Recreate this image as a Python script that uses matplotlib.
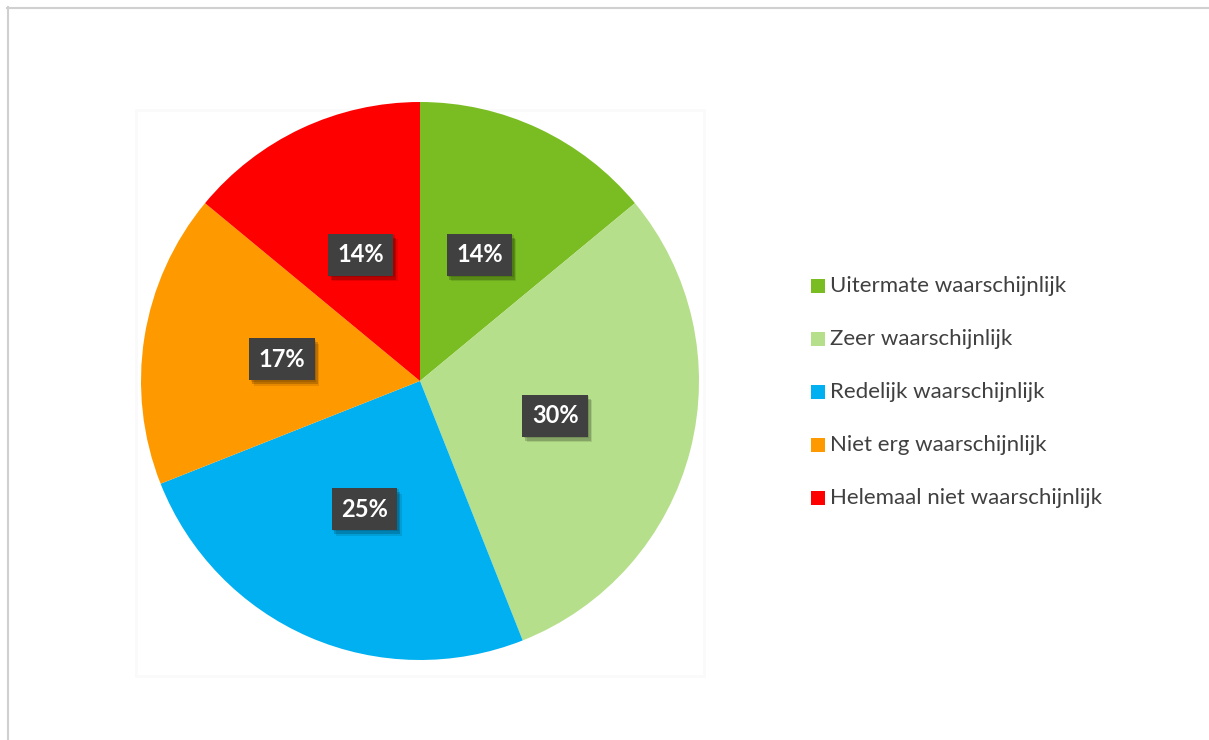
import matplotlib
matplotlib.use("Agg")
import matplotlib.pyplot as plt
from matplotlib.patches import Rectangle
import matplotlib.patheffects as pe

categories = [
    "Uitermate waarschijnlijk",
    "Zeer waarschijnlijk",
    "Redelijk waarschijnlijk",
    "Niet erg waarschijnlijk",
    "Helemaal niet waarschijnlijk",
]
shares = [14, 30, 25, 17, 14]
colors = ["#7ABD22", "#B5DF8A", "#00B0F0", "#FF9900", "#FF0000"]

W, H = 1209, 740
fig = plt.figure(figsize=(W / 100, H / 100), dpi=100)
fig.patch.set_facecolor("white")
plt.rcParams["font.family"] = ["Lato", "DejaVu Sans"]

# outer chart border (top and left edges visible)
border = fig.add_axes([0, 0, 1, 1])
border.set_xlim(0, W)
border.set_ylim(H, 0)
border.axis("off")
border.plot([7, W], [7.5, 7.5], color="#D0D0D0", lw=1.5)
border.plot([7.5, 7.5], [7, H], color="#D0D0D0", lw=1.5)
# faint plot-area frame
border.add_patch(Rectangle((136, 110), 568, 566, fill=False, ec="#FAFAFA", lw=2))

cx, cy, r = 420, 381, 279
ax = fig.add_axes([(cx - r) / W, (H - cy - r) / H, 2 * r / W, 2 * r / H])
wedges, _, autotexts = ax.pie(
    shares,
    colors=colors,
    startangle=90,
    counterclock=False,
    radius=1,
    autopct=lambda p: f"{p:.0f}%",
    pctdistance=0.5,
    wedgeprops=dict(linewidth=0),
)
ax.set_xlim(-1, 1)
ax.set_ylim(-1, 1)
ax.set_aspect("equal")

for t in autotexts:
    t.set_color("white")
    t.set_fontweight("bold")
    t.set_fontsize(17)
    t.set_bbox(dict(boxstyle="square,pad=0.4", fc="#404040", lw=0))
    t.get_bbox_patch().set_path_effects(
        [pe.SimplePatchShadow(offset=(1, -1), shadow_rgbFace="black", alpha=0.12),
         pe.SimplePatchShadow(offset=(2, -3), shadow_rgbFace="black", alpha=0.18),
         pe.SimplePatchShadow(offset=(3, -4), shadow_rgbFace="black", alpha=0.1),
         pe.Normal()])

# legend
ys = [286, 339, 392, 445, 498]
for name, col, y in zip(categories, colors, ys):
    border.add_patch(Rectangle((811, y - 7), 14, 14, color=col, lw=0))
    border.text(830, y, name, fontsize=16, color="#404040", va="center", ha="left")

fig.savefig("out.png", dpi=100)
